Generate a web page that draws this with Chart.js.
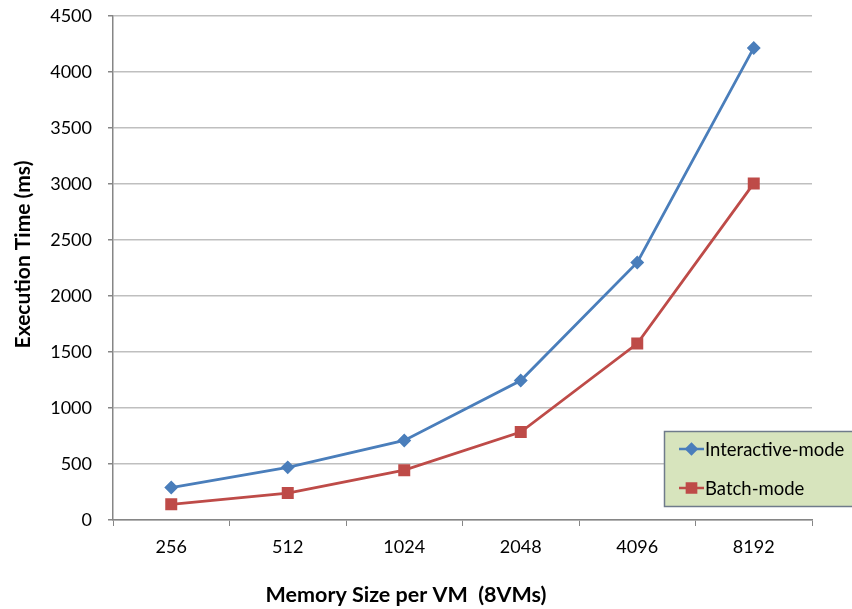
<!DOCTYPE html>
<html>
<head>
<meta charset="utf-8">
<script src="https://cdn.jsdelivr.net/npm/chart.js@4/dist/chart.umd.min.js"></script>
<style>
  html, body { margin: 0; padding: 0; background: #fff; }
  #wrap { width: 852px; height: 609px; position: relative; }
</style>
</head>
<body>
<div id="wrap"><canvas id="c" width="852" height="609"></canvas></div>
<script>
// Memory size per VM (MB) and measured execution times (ms)
const memorySizes = ['256', '512', '1024', '2048', '4096', '8192'];
const interactiveMode = [290, 470, 710, 1245, 2300, 4215];
const batchMode = [140, 240, 445, 785, 1575, 3005];
const yTicks = [0, 500, 1000, 1500, 2000, 2500, 3000, 3500, 4000, 4500];

const FONT = "Lato, 'Open Sans', 'Liberation Sans', sans-serif";
const BLUE = '#4A7EBB';
const RED = '#BE4B48';
const Y_TITLE = 'Execution Time (ms)';
const X_TITLE = 'Memory Size per VM  (8VMs)';

// Vertical axis title, centred on the upper part of the chart
const yAxisTitle = {
  id: 'yAxisTitle',
  afterDraw(chart) {
    const ctx = chart.ctx;
    ctx.save();
    ctx.translate(23, 254.5);
    ctx.rotate(-Math.PI / 2);
    ctx.fillStyle = '#000';
    ctx.font = 'bold 21px ' + FONT;
    ctx.textAlign = 'center';
    ctx.textBaseline = 'middle';
    ctx.fillText(Y_TITLE, 0, 0);
    ctx.restore();
  }
};

// Boxed legend in the lower right corner of the plot
const boxLegend = {
  id: 'boxLegend',
  afterDraw(chart) {
    const ctx = chart.ctx;
    const x0 = 664, y0 = 431, w = 200, h = 76;
    ctx.save();
    ctx.fillStyle = '#D7E4BD';
    ctx.fillRect(x0, y0, w, h);
    ctx.strokeStyle = '#6F7B8B';
    ctx.lineWidth = 1.5;
    ctx.strokeRect(x0 + 0.5, y0 + 0.5, w, h - 1);
    const rows = [449, 488];
    chart.data.datasets.forEach((ds, i) => {
      const y = rows[i];
      ctx.strokeStyle = ds.borderColor;
      ctx.lineWidth = 2.5;
      ctx.beginPath();
      ctx.moveTo(679, y);
      ctx.lineTo(704, y);
      ctx.stroke();
      Chart.helpers.drawPoint(ctx, {
        pointStyle: ds.pointStyle,
        radius: ds.pointRadius,
        borderWidth: 1
      }, 691.5, y);
      ctx.fillStyle = ds.pointBackgroundColor;
      ctx.fill();
      ctx.fillStyle = '#000';
      ctx.font = '18.5px ' + FONT;
      ctx.textBaseline = 'middle';
      ctx.textAlign = 'left';
      ctx.fillText(ds.label, 705, y + 1);
    });
    ctx.restore();
  }
};

new Chart(document.getElementById('c'), {
  type: 'line',
  data: {
    labels: memorySizes,
    datasets: [
      {
        label: 'Interactive-mode',
        data: interactiveMode,
        borderColor: BLUE,
        backgroundColor: BLUE,
        pointBackgroundColor: BLUE,
        pointBorderColor: BLUE,
        pointStyle: 'rectRot',
        pointRadius: 5,
        borderWidth: 2.8,
        tension: 0
      },
      {
        label: 'Batch-mode',
        data: batchMode,
        borderColor: RED,
        backgroundColor: RED,
        pointBackgroundColor: RED,
        pointBorderColor: RED,
        pointStyle: 'rect',
        pointRadius: 6.5,
        borderWidth: 2.8,
        tension: 0
      }
    ]
  },
  options: {
    responsive: false,
    animation: false,
    devicePixelRatio: 1,
    layout: { padding: { left: 0, right: 40, top: 16, bottom: 0 } },
    plugins: {
      legend: { display: false },
      tooltip: { enabled: false },
      title: {
        display: true,
        position: 'bottom',
        text: X_TITLE,
        color: '#000',
        font: { family: FONT, size: 21.5, weight: 'bold', lineHeight: 1.2 },
        padding: { top: 0, bottom: 1 }
      }
    },
    scales: {
      x: {
        offset: true,
        grid: {
          offset: true,
          drawOnChartArea: false,
          drawTicks: true,
          tickLength: 6,
          color: '#868686'
        },
        border: { color: '#868686', width: 1.5 },
        ticks: {
          color: '#000',
          font: { family: FONT, size: 18 },
          padding: 10,
          maxRotation: 0
        },
        afterFit(scale) { scale.height = 62.2; }
      },
      y: {
        min: 0,
        max: 4500,
        afterBuildTicks(scale) { scale.ticks = yTicks.map(v => ({ value: v })); },
        grid: {
          color: '#BFBFBF',
          lineWidth: 1.5,
          tickLength: 5,
          tickColor: '#868686'
        },
        border: { color: '#868686', width: 1.5 },
        ticks: {
          color: '#000',
          font: { family: FONT, size: 18 },
          padding: 16,
          callback: (v) => String(v)
        },
        afterFit(scale) {
          scale.width = 113;
          scale.paddingTop = 0;
          scale.paddingBottom = 0;
        }
      }
    }
  },
  plugins: [yAxisTitle, boxLegend]
});
</script>
</body>
</html>
